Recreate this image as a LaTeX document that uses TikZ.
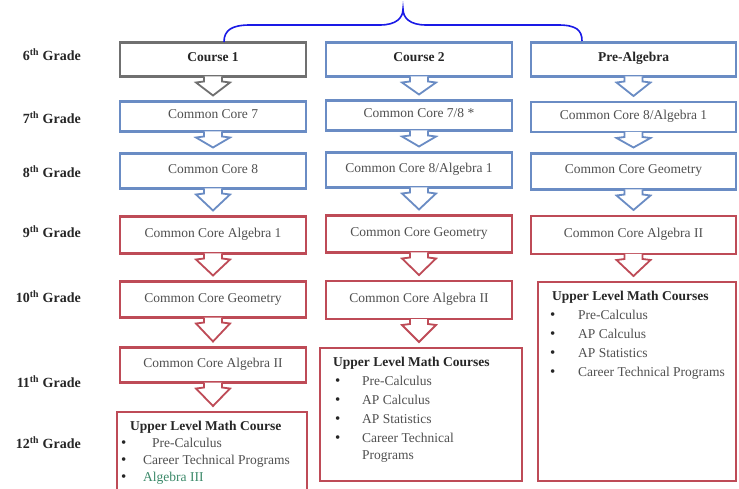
\documentclass[tikz,border=0pt]{standalone}
\usepackage{fontspec}
\setmainfont{Liberation Serif}
\usetikzlibrary{calc}
\definecolor{gborder}{HTML}{707070}
\definecolor{bborder}{HTML}{6A8CC4}
\definecolor{rborder}{HTML}{BE4B57}
\definecolor{txt}{HTML}{505050}
\definecolor{ttxt}{HTML}{262626}
\definecolor{bracec}{HTML}{1A1AE6}
\definecolor{algc}{HTML}{3C8A6A}
\newcommand\flowarrow[3]{%
  \draw[arrowline=#3] ($(#1.south)+(-9,0)$) -- ($(#1.south)+(-9,5)$) -- ($(#1.south)+(-17,6)$)
    -- ($(#1.south |- #2.north)+(0,-6)$) -- ($(#1.south)+(17,6)$) -- ($(#1.south)+(9,5)$) -- ($(#1.south)+(9,0)$);}
\newcommand\bdot{{\color{ttxt}\fontsize{15}{10}\selectfont •}}
\begin{document}
\begin{tikzpicture}[x=1pt,y=-1pt,
  box/.style={draw=#1, line width=2.2pt, fill=white, inner sep=0pt, outer sep=0pt,
    font=\fontsize{13.5}{16}\selectfont, text=txt, text height=9pt, text depth=4pt},
  cone/.style={minimum width=186pt},
  cthree/.style={minimum width=205pt},
  arrowline/.style={draw=#1, line width=1.8pt, fill=white, line join=miter},
  grade/.style={anchor=east, font=\fontsize{14}{16}\selectfont\bfseries, text=ttxt, inner sep=0pt},
  list/.style={anchor=north west, inner sep=0pt, align=left, text=txt},
  ttl/.style={font=\fontsize{13.5}{16}\selectfont\bfseries, text=ttxt}]
\useasboundingbox (0,0) rectangle (739,489);
\fill[white] (0,0) rectangle (739,489);
\clip (0,0) rectangle (739,489);

% grade labels
\node[grade] (g6) at (81,55) {6\textsuperscript{th} Grade};
\node[grade] (g7) at (81,118) {7\textsuperscript{th} Grade};
\node[grade] (g8) at (81,172) {8\textsuperscript{th} Grade};
\node[grade] (g9) at (81,232) {9\textsuperscript{th} Grade};
\node[grade] (g10) at (81,297) {10\textsuperscript{th} Grade};
\node[grade] (g11) at (81,382) {11\textsuperscript{th} Grade};
\node[grade] (g12) at (81,443) {12\textsuperscript{th} Grade};

% column 1
\node[box=gborder, cone, minimum height=34pt, ttl] (a1) at (213,59.5) {Course 1};
\node[box=bborder, cone, minimum height=30pt] (a2) at (213,116.5) {Common Core 7};
\node[box=bborder, cone, minimum height=35pt] (a3) at (213,171) {Common Core 8};
\node[box=rborder, cone, minimum height=37pt] (a4) at (213,235) {Common Core Algebra 1};
\node[box=rborder, cone, minimum height=36pt] (a5) at (213,299.5) {Common Core Geometry};
\node[box=rborder, cone, minimum height=35pt] (a6) at (213,365) {Common Core Algebra II};
\node[box=rborder, minimum width=190pt, minimum height=93pt] (a7) at (212,458.5) {};

% column 2
\node[box=bborder, cone, minimum height=34pt, ttl] (b1) at (419,59.5) {Course 2};
\node[box=bborder, cone, minimum height=30pt] (b2) at (419,115.5) {Common Core 7/8 *};
\node[box=bborder, cone, minimum height=35pt] (b3) at (419,170) {Common Core 8/Algebra 1};
\node[box=rborder, cone, minimum height=37pt] (b4) at (419,234) {Common Core Geometry};
\node[box=rborder, cone, minimum height=38pt] (b5) at (419,300) {Common Core Algebra II};
\node[box=rborder, minimum width=202pt, minimum height=133pt] (b6) at (421,414.5) {};

% column 3
\node[box=bborder, cthree, minimum height=34pt, ttl] (c1) at (633.5,59.5) {Pre-Algebra};
\node[box=bborder, cthree, minimum height=30pt] (c2) at (633.5,117) {Common Core 8/Algebra 1};
\node[box=bborder, cthree, minimum height=36pt] (c3) at (633.5,171.5) {Common Core Geometry};
\node[box=rborder, cthree, minimum height=38pt] (c4) at (633.5,235) {Common Core Algebra II};
\node[box=rborder, minimum width=198pt, minimum height=199pt] (c5) at (637,381.5) {};

% list contents
\node[list, font=\fontsize{13.5}{17}\selectfont] (a7t) at (130,420.5)
  {{\bfseries\color{ttxt}Upper Level Math Course}\\
   \hspace*{-9pt}\makebox[31pt][l]{\bdot}Pre-Calculus\\
   \hspace*{-9pt}\makebox[22pt][l]{\bdot}Career Technical Programs\\
   \hspace*{-9pt}\makebox[22pt][l]{\bdot}{\color{algc}Algebra III}};
\node[list, font=\fontsize{13.5}{19}\selectfont] (b6t) at (333,356.5)
  {{\bfseries\color{ttxt}Upper Level Math Courses}\\
   \hspace*{2pt}\makebox[27pt][l]{\bdot}Pre-Calculus\\
   \hspace*{2pt}\makebox[27pt][l]{\bdot}AP Calculus\\
   \hspace*{2pt}\makebox[27pt][l]{\bdot}AP Statistics\\
   \hspace*{2pt}\makebox[27pt][l]{\bdot}Career Technical\\[-2pt]
   \hspace*{29pt}Programs};
\node[list, font=\fontsize{13.5}{19}\selectfont] (c5t) at (552,290.5)
  {{\bfseries\color{ttxt}Upper Level Math Courses}\\
   \hspace*{-2pt}\makebox[28pt][l]{\bdot}Pre-Calculus\\
   \hspace*{-2pt}\makebox[28pt][l]{\bdot}AP Calculus\\
   \hspace*{-2pt}\makebox[28pt][l]{\bdot}AP Statistics\\
   \hspace*{-2pt}\makebox[28pt][l]{\bdot}Career Technical Programs};

% arrows
\flowarrow{a1}{a2}{gborder}
\flowarrow{a2}{a3}{bborder}
\flowarrow{a3}{a4}{bborder}
\flowarrow{a4}{a5}{rborder}
\flowarrow{a5}{a6}{rborder}
\flowarrow{a6}{a7}{rborder}
\flowarrow{b1}{b2}{bborder}
\flowarrow{b2}{b3}{bborder}
\flowarrow{b3}{b4}{bborder}
\flowarrow{b4}{b5}{rborder}
\flowarrow{b5}{b6}{rborder}
\flowarrow{c1}{c2}{bborder}
\flowarrow{c2}{c3}{bborder}
\flowarrow{c3}{c4}{bborder}
\flowarrow{c4}{c5}{rborder}

% brace
\draw[bracec, line width=1.6pt] (224,42) .. controls (224,30) and (232,25) .. (250,25) -- (380,25)
  .. controls (396,25) and (403,18) .. (403,9) .. controls (403,18) and (410,25) .. (426,25)
  -- (558,25) .. controls (576,25) and (582,30) .. (582,41);
\end{tikzpicture}
\end{document}
